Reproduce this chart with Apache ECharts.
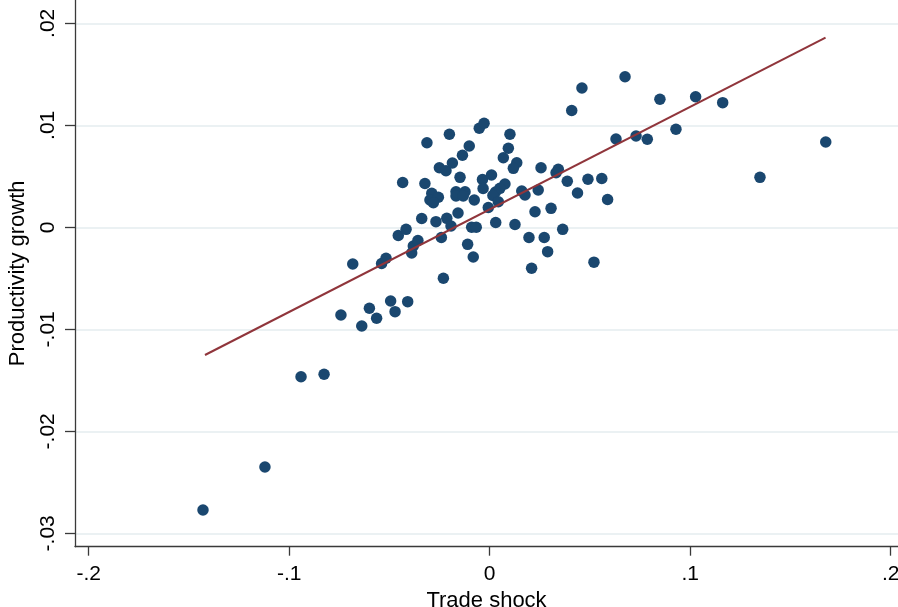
<!DOCTYPE html>
<html>
<head>
<meta charset="utf-8">
<script src="https://cdn.jsdelivr.net/npm/echarts@6/dist/echarts.min.js"></script>
<style>
  html, body { margin: 0; padding: 0; background: #fff; }
  #main { width: 898px; height: 607px; }
</style>
</head>
<body>
<div id="main"></div>
<script>
// trade shock (x) for each observation
const tradeShock = [
  -0.1430, -0.1121, -0.0941, -0.0826, -0.0742, -0.0638, -0.0600, -0.0564, -0.0494, -0.0472,
  -0.0409, -0.0683, -0.0539, -0.0517, -0.0456, -0.0417, -0.0389, -0.0381, -0.0358, -0.0434,
  -0.0323, -0.0313, -0.0339, -0.0268, -0.0241, -0.0231, -0.0214, -0.0193, -0.0158, -0.0289,
  -0.0298, -0.0256, -0.0281, -0.0251, -0.0218, -0.0186, -0.0201, -0.0136, -0.0102, -0.0148,
  -0.0168, -0.0123, -0.0168, -0.0132, -0.0077, -0.0090, -0.0067, -0.0110, -0.0082, -0.0052,
  -0.0028, -0.0036, 0.0009, -0.0033, 0.0076, 0.0051, 0.0029, 0.0016, 0.0043, -0.0007,
  0.0030, 0.0068, 0.0093, 0.0101, 0.0135, 0.0118, 0.0160, 0.0176, 0.0242, 0.0256,
  0.0226, 0.0306, 0.0126, 0.0196, 0.0272, 0.0289, 0.0209, 0.0342, 0.0331, 0.0387,
  0.0438, 0.0490, 0.0559, 0.0588, 0.0364, 0.0520, 0.0409, 0.0460, 0.0630, 0.0730,
  0.0786, 0.0929, 0.0675, 0.0849, 0.1027, 0.1162, 0.1348, 0.1676
];
// productivity growth (y) for each observation
const prodGrowth = [
  -0.02772, -0.02350, -0.01465, -0.01441, -0.00860, -0.00968, -0.00794, -0.00892, -0.00723, -0.00827,
  -0.00729, -0.00360, -0.00355, -0.00304, -0.00080, -0.00020, -0.00252, -0.00183, -0.00129, 0.00439,
  0.00429, 0.00829, 0.00086, 0.00055, -0.00100, -0.00500, 0.00088, 0.00013, 0.00140, 0.00333,
  0.00268, 0.00294, 0.00241, 0.00584, 0.00555, 0.00630, 0.00912, 0.00706, 0.00797, 0.00490,
  0.00349, 0.00349, 0.00307, 0.00307, 0.00268, 0.00000, 0.00000, -0.00167, -0.00291, 0.00971,
  0.01020, 0.00469, 0.00513, 0.00380, 0.00425, 0.00382, 0.00346, 0.00312, 0.00251, 0.00194,
  0.00047, 0.00682, 0.00775, 0.00912, 0.00633, 0.00578, 0.00356, 0.00317, 0.00366, 0.00584,
  0.00153, 0.00186, 0.00027, -0.00100, -0.00100, -0.00239, -0.00402, 0.00569, 0.00535, 0.00451,
  0.00336, 0.00471, 0.00478, 0.00273, -0.00020, -0.00342, 0.01145, 0.01366, 0.00866, 0.00895,
  0.00863, 0.00961, 0.01476, 0.01255, 0.01280, 0.01222, 0.00490, 0.00836
];
// fitted line end points
const fitX = [-0.1420, 0.1675];
const fitY = [-0.01252, 0.01859];

// axis ticks
const xTicks = [-0.2, -0.1, 0, 0.1, 0.2];
const xTickLabels = ['-.2', '-.1', '0', '.1', '.2'];
const yTicks = [-0.03, -0.02, -0.01, 0, 0.01, 0.02];
const yTickLabels = ['-.03', '-.02', '-.01', '0', '.01', '.02'];

const points = tradeShock.map((x, i) => [x, prodGrowth[i]]);
const fitLine = fitX.map((x, i) => [x, fitY[i]]);

const labelOf = (ticks, labels) => (v) => {
  const i = ticks.findIndex(t => Math.abs(t - v) < 1e-9);
  return i < 0 ? '' : labels[i];
};

const font = '"Liberation Sans", Arial, sans-serif';
const axisColor = '#3a3a3a';

const chart = echarts.init(document.getElementById('main'), null, { renderer: 'canvas' });
chart.setOption({
  backgroundColor: '#ffffff',
  animation: false,
  grid: { left: 75, right: 0, top: 0, bottom: 60.3, containLabel: false, outerBoundsMode: 'none' },
  xAxis: {
    type: 'value',
    min: -0.20683,
    max: 0.20364,
    name: 'Trade shock',
    nameLocation: 'middle',
    nameGap: 32,
    nameTextStyle: { fontFamily: font, fontSize: 22, color: '#000' },
    axisLine: { onZero: false, lineStyle: { color: axisColor, width: 1.3 } },
    axisTick: { customValues: xTicks, length: 9, lineStyle: { color: axisColor, width: 1.3 } },
    axisLabel: {
      customValues: xTicks,
      margin: 17,
      fontFamily: font,
      fontSize: 21,
      color: '#000',
      formatter: labelOf(xTicks, xTickLabels)
    },
    splitLine: { show: false }
  },
  yAxis: {
    type: 'value',
    min: -0.031314,
    max: 0.022284,
    name: 'Productivity growth',
    nameLocation: 'middle',
    nameGap: 46,
    nameTextStyle: { fontFamily: font, fontSize: 22, color: '#000' },
    axisLine: { show: true, onZero: false, lineStyle: { color: axisColor, width: 1.3 } },
    axisTick: { show: true, customValues: yTicks, length: 10, lineStyle: { color: axisColor, width: 1.3 } },
    axisLabel: {
      customValues: yTicks,
      rotate: 90,
      margin: 16,
      fontFamily: font,
      fontSize: 21,
      color: '#000',
      formatter: labelOf(yTicks, yTickLabels)
    },
    splitLine: { show: true, lineStyle: { color: '#e4ecef', width: 1.6 } }
  },
  series: [
    {
      type: 'scatter',
      data: points,
      symbol: 'circle',
      symbolSize: 11.5,
      itemStyle: { color: '#1a476f', opacity: 1 },
      z: 2
    },
    {
      type: 'line',
      data: fitLine,
      symbol: 'none',
      lineStyle: { color: '#90353b', width: 2 },
      z: 3
    }
  ]
});
</script>
</body>
</html>
